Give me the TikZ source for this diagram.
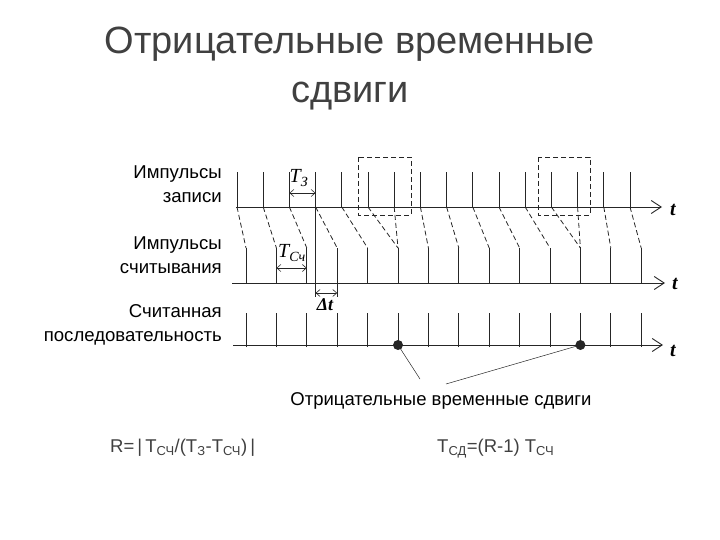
\documentclass[tikz,border=0pt]{standalone}
\usepackage{fontspec}
\setmainfont{Liberation Sans}
\newfontfamily\tnr{Liberation Serif}
\usetikzlibrary{arrows.meta}
\colorlet{Tgray}{black!75}
\colorlet{Lgray}{black!85}
\newcommand{\lblfont}{\fontsize{18.6}{24}\selectfont}
\newcommand{\tlabel}[1]{{\tnr\bfseries\itshape\fontsize{20}{20}\selectfont #1}}

\begin{document}
\begin{tikzpicture}[x=1pt, y=-1pt,
  pulse/.style={Lgray, line width=.8pt},
  link/.style={Lgray, line width=.8pt, dash pattern=on 5pt off 3pt},
  axis/.style={Lgray, line width=.9pt, -{Straight Barb[length=10pt,width=13pt]}},
  dim/.style={Lgray, line width=.6pt, {Straight Barb[length=4pt,width=7pt]}-{Straight Barb[length=4pt,width=7pt]}},
  lbl/.style={font=\lblfont, align=right, anchor=east, inner sep=0pt}]
\useasboundingbox (0,0) rectangle (720,540);

% title
\node[Tgray, font=\fontsize{38}{49}\selectfont, align=center, anchor=base, inner sep=0pt] (title) at (350,103)
  {Отрицательные временные\\сдвиги};

% row labels
\node[lbl] (wlbl) at (222,184) {Импульсы\\записи};
\node[lbl] (rlbl) at (222,255) {Импульсы\\считывания};
\node[lbl] (slbl) at (222,325) {Считанная\\последовательность};

% axes
\coordinate (wa) at (236,207); \coordinate (wb) at (662,207);
\coordinate (ra) at (232,283); \coordinate (rb) at (665,283);
\coordinate (sa) at (233,345); \coordinate (sb) at (663,345);
\draw[axis] (wa) -- (wb);
\draw[axis] (ra) -- (rb);
\draw[axis] (sa) -- (sb);
\node (wt) at (673,210) {\tlabel{t}};
\node (rt) at (675,284) {\tlabel{t}};
\node (st) at (673,351) {\tlabel{t}};

% write pulses
\foreach \k in {0,...,15} {
  \coordinate (w\k) at ({237+26.2*\k},207);
  \coordinate (wtop\k) at ({237+26.2*\k},172);
  \draw[pulse] (w\k) -- (wtop\k);
}
% read pulses
\foreach \k in {0,...,13} {
  \coordinate (r\k) at ({246+30.4*\k},283);
  \coordinate (rtop\k) at ({246+30.4*\k},248);
  \draw[pulse] (r\k) -- (rtop\k);
}
% write -> read
\foreach \k/\j in {0/0,1/1,2/2,3/3,4/4,5/5,6/5,7/6,8/7,9/8,10/9,11/10,12/11,13/11,14/12,15/13}
  \draw[link] (w\k) -- (rtop\j);

% read sequence
\foreach \k in {0,...,13} {
  \coordinate (s\k) at ({246+30.4*\k},347);
  \coordinate (stop\k) at ({246+30.4*\k},313);
  \draw[pulse] (s\k) -- (stop\k);
}
\fill[black!85] (s5 |- sa) circle (5pt);
\fill[black!85] (s11 |- sa) circle (5pt);

% overtaking boxes
\draw[link, line width=.7pt] (358,157) rectangle (411,215);
\draw[link, line width=.7pt] (538,157) rectangle (590,215);

% dimensions
\coordinate (w3low) at (w3 |- 0,297);
\coordinate (r3low) at (r3 |- 0,297);
\draw[pulse] (w3) -- (w3low);
\draw[pulse] (r3) -- (r3low);
\draw[dim] (w2 |- 0,193) -- (w3 |- 0,193);
\draw[dim] (r1 |- 0,268) -- (r2 |- 0,268);
\draw[dim] (w3 |- 0,293) -- (r3 |- 0,293);
\node (tz) at (299,178) {\tnr\itshape\fontsize{20}{20}\selectfont T\textsubscript{З}};
\node (tsc) at (292,253) {\tnr\itshape\fontsize{20}{20}\selectfont T\textsubscript{Cч}};
\node (dt) at (325,305) {\tnr\bfseries\itshape\fontsize{18}{18}\selectfont Δt};

% negative shifts
\node[font=\fontsize{18.5}{22}\selectfont, inner sep=0pt, anchor=base] (shifts) at (441,405)
  {Отрицательные временные сдвиги};
\coordinate (lead1) at (420,379);
\coordinate (lead2) at (446,384);
\draw[Lgray, line width=.5pt] (s5 |- sa) -- (lead1);
\draw[Lgray, line width=.5pt] (s11 |- sa) -- (lead2);

% formulas
\node[Tgray, font=\fontsize{18.5}{18}\selectfont, anchor=base west, inner sep=0pt] (rform) at (110,452)
  {R=\,|\,T\textsubscript{СЧ}/(T\textsubscript{З}-T\textsubscript{СЧ})\,|};
\node[Tgray, font=\fontsize{18.5}{18}\selectfont, anchor=base west, inner sep=0pt] (tform) at (437,452)
  {T\textsubscript{СД}=(R-1) T\textsubscript{СЧ}};
\end{tikzpicture}
\end{document}
